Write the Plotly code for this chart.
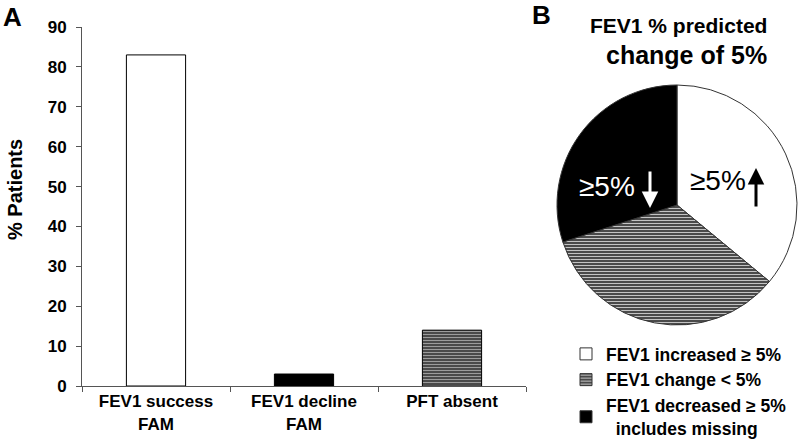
import plotly.graph_objects as go

# panel A: bar chart
bar_categories = ["FEV1 success<br>FAM", "FEV1 decline<br>FAM", "PFT absent"]
bar_values = [83, 3, 14]
y_ticks = [0, 10, 20, 30, 40, 50, 60, 70, 80, 90]

# panel B: pie chart
pie_labels = ["FEV1 increased ≥ 5%", "FEV1 change < 5%", "FEV1 decreased ≥ 5%<br>  includes missing"]
pie_values = [36, 34, 30]

FONT = "Arial, Liberation Sans, sans-serif"
HATCH_BG = "#4a4a4a"
HATCH_FG = "#d0d0d0"

# positions below are in screen pixels (body margin removed via post_script)
W, H = 800, 441
L, T, B = 82, 27, 386          # plot area (left, top, bottom)
def px(x):
    return (x - L) / (W - L)
def py(y):
    return (B - y) / (B - T)

fig = go.Figure()

fig.add_trace(go.Bar(
    x=bar_categories,
    y=bar_values,
    width=0.4,
    showlegend=False,
    marker=dict(
        color=["white", "black", HATCH_BG],
        line=dict(color="black", width=1),
        pattern=dict(shape=["", "", "-"], bgcolor=["white", "black", HATCH_BG],
                     fgcolor=HATCH_FG, size=3, solidity=0.3),
    ),
))

fig.add_trace(go.Pie(
    labels=pie_labels,
    values=pie_values,
    sort=False,
    direction="clockwise",
    rotation=0,
    textinfo="none",
    hoverinfo="label+percent",
    domain=dict(x=[px(557), px(797)], y=[py(325), py(85)]),
    marker=dict(
        colors=["white", HATCH_BG, "black"],
        line=dict(color="#333333", width=1),
        pattern=dict(shape=["", "-", ""], bgcolor=["white", HATCH_BG, "black"],
                     fgcolor=HATCH_FG, size=3, solidity=0.3),
    ),
))

fig.update_layout(
    width=W, height=H,
    margin=dict(l=L, r=0, t=T, b=H - B, autoexpand=False),
    paper_bgcolor="white",
    plot_bgcolor="white",
    font=dict(family=FONT, color="black"),
    xaxis=dict(
        domain=[0, px(526)],
        automargin=False,
        showline=True, linecolor="#555555", linewidth=1,
        ticks="outside", tickson="boundaries", ticklen=5, tickcolor="#555555",
        tickfont=dict(size=17, family=FONT, weight="bold"),
        showgrid=False,
    ),
    yaxis=dict(
        range=[0, 90],
        automargin=False,
        tickvals=y_ticks,
        showline=True, linecolor="#555555", linewidth=1,
        ticks="outside", ticklen=5, tickcolor="#555555",
        ticklabelstandoff=6,
        tickfont=dict(size=17, family=FONT, weight="bold"),
        showgrid=False, zeroline=False,
    ),
    legend=dict(
        xref="container", yref="container",
        x=566 / W, y=1 - 336 / H, xanchor="left", yanchor="top",
        font=dict(size=17.5, family=FONT, weight="bold"),
        bgcolor="rgba(0,0,0,0)",
        tracegroupgap=0,
    ),
)

annotations = [
    dict(text="<b>A</b>", x=px(1), y=py(0), xanchor="left", yanchor="top", font=dict(size=26)),
    dict(text="<b>B</b>", x=px(530), y=py(-2), xanchor="left", yanchor="top", font=dict(size=26)),
    dict(text="<b>% Patients</b>", x=px(15), y=py(190), xanchor="center", yanchor="middle",
         textangle=-90, font=dict(size=20)),
    dict(text="<b>FEV1 % predicted</b>", x=px(769), y=py(25), xanchor="right", yanchor="middle", font=dict(size=21)),
    dict(text="<b>change of 5%</b>", x=px(769), y=py(55), xanchor="right", yanchor="middle", font=dict(size=25)),
    dict(text="≥5%", x=px(607), y=py(186), xanchor="center", yanchor="middle", font=dict(size=28, color="white")),
    dict(text="≥5%", x=px(718), y=py(180), xanchor="center", yanchor="middle", font=dict(size=28, color="black")),
]
for a in annotations:
    a.update(xref="paper", yref="paper", showarrow=False)
    a["font"].setdefault("family", FONT)

# arrows drawn as annotation arrows (tip at x,y; tail offset in px)
arrows = [
    dict(x=px(650), y=py(208), ax=0, ay=-38, arrowcolor="white"),
    dict(x=px(756), y=py(168), ax=0, ay=40, arrowcolor="black"),
]
for a in arrows:
    a.update(xref="paper", yref="paper", text="", showarrow=True,
             axref="pixel", ayref="pixel", arrowhead=2, arrowsize=1.1, arrowwidth=3)
fig.update_layout(annotations=annotations + arrows)

fig.write_html("out.html", config={"displayModeBar": False},
               post_script="document.body.style.margin = '0';")
